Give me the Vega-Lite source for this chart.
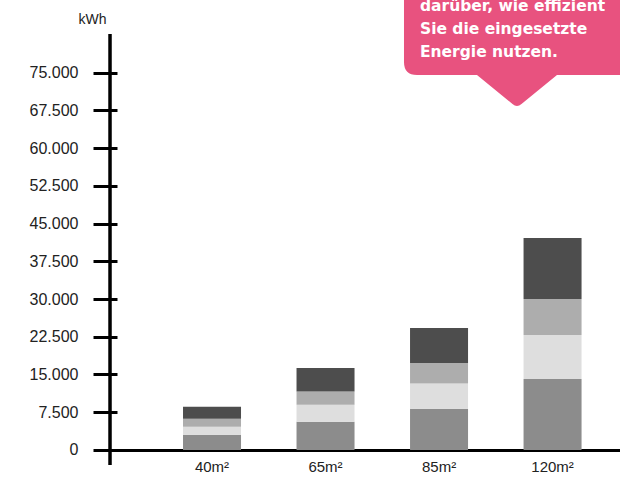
{
  "$schema": "https://vega.github.io/schema/vega-lite/v6.json",
  "width": 525,
  "height": 430,
  "autosize": {"type": "none"},
  "padding": {"left": 95, "top": 35, "right": 0, "bottom": 31},
  "datasets": {
    "verbrauch": [
      {"flaeche": "40m²", "teil": "1", "kwh": 3000},
      {"flaeche": "40m²", "teil": "2", "kwh": 1600},
      {"flaeche": "40m²", "teil": "3", "kwh": 1600},
      {"flaeche": "40m²", "teil": "4", "kwh": 2400},
      {"flaeche": "65m²", "teil": "1", "kwh": 5600},
      {"flaeche": "65m²", "teil": "2", "kwh": 3400},
      {"flaeche": "65m²", "teil": "3", "kwh": 2600},
      {"flaeche": "65m²", "teil": "4", "kwh": 4700},
      {"flaeche": "85m²", "teil": "1", "kwh": 8200},
      {"flaeche": "85m²", "teil": "2", "kwh": 5000},
      {"flaeche": "85m²", "teil": "3", "kwh": 4100},
      {"flaeche": "85m²", "teil": "4", "kwh": 6950},
      {"flaeche": "120m²", "teil": "1", "kwh": 14100},
      {"flaeche": "120m²", "teil": "2", "kwh": 8750},
      {"flaeche": "120m²", "teil": "3", "kwh": 7150},
      {"flaeche": "120m²", "teil": "4", "kwh": 12150}
    ],
    "achse": [{"u": 0.0286, "kwh": 82700, "kwh2": -3000}],
    "hinweis": [{"u": 0.8038, "kwh": 81500}],
    "hinweistext": [
      {"u": 0.619, "kwh": 87270, "txt": "darüber, wie effizient"},
      {"u": 0.619, "kwh": 82700, "txt": "Sie die eingesetzte"},
      {"u": 0.619, "kwh": 78130, "txt": "Energie nutzen."}
    ]
  },
  "encoding": {
    "y": {
      "field": "kwh",
      "type": "quantitative",
      "scale": {"domain": [-3000, 82500], "nice": false, "zero": false},
      "axis": {
        "title": "kWh",
        "titleAngle": 0,
        "titleAlign": "center",
        "titleBaseline": "alphabetic",
        "titleX": -25,
        "titleY": -12,
        "titleFont": "Liberation Sans",
        "titleFontSize": 14,
        "titleFontWeight": "normal",
        "titleColor": "#222",
        "values": [0, 7500, 15000, 22500, 30000, 37500, 45000, 52500, 60000, 67500, 75000],
        "labelExpr": "replace(format(datum.value, ','), ',', '.')",
        "domain": false,
        "grid": false,
        "offset": -22,
        "tickSize": 24,
        "tickWidth": 3,
        "tickColor": "#000",
        "labelPadding": 15,
        "labelFont": "Liberation Sans",
        "labelFontSize": 16,
        "labelColor": "#222"
      }
    }
  },
  "layer": [
    {
      "data": {"name": "verbrauch"},
      "mark": {"type": "bar"},
      "encoding": {
        "x": {
          "field": "flaeche",
          "type": "nominal",
          "sort": ["40m²", "65m²", "85m²", "120m²"],
          "scale": {"paddingInner": 0.489, "paddingOuter": 0.557, "align": 0.696},
          "axis": {
            "title": null,
            "labelAngle": 0,
            "ticks": false,
            "tickSize": 0,
            "offset": -15,
            "domainWidth": 3,
            "domainColor": "#000",
            "labelPadding": 9,
            "labelFont": "Liberation Sans",
            "labelFontSize": 15,
            "labelColor": "#222"
          }
        },
        "color": {
          "field": "teil",
          "type": "nominal",
          "scale": {"domain": ["1", "2", "3", "4"], "range": ["#8c8c8c", "#dedede", "#adadad", "#4d4d4d"]},
          "legend": null
        },
        "order": {"field": "teil"}
      }
    },
    {
      "data": {"name": "achse"},
      "mark": {"type": "rule", "color": "#000", "strokeWidth": 3.5},
      "encoding": {
        "x": {"field": "u", "type": "quantitative", "scale": {"domain": [0, 1]}, "axis": null},
        "y2": {"field": "kwh2"}
      }
    },
    {
      "data": {"name": "hinweis"},
      "mark": {
        "type": "point",
        "filled": true,
        "opacity": 1,
        "size": 40000,
        "color": "#e8527f",
        "shape": "M -1.13 -1.4 L 1.3 -1.4 L 1.3 0.35 L 0.4 0.35 L 0.045 0.64 Q 0 0.68 -0.045 0.64 L -0.4 0.35 L -1.0 0.35 Q -1.13 0.35 -1.13 0.22 Z"
      },
      "encoding": {
        "x": {"field": "u", "type": "quantitative", "scale": {"domain": [0, 1]}, "axis": null}
      }
    },
    {
      "data": {"name": "hinweistext"},
      "mark": {
        "type": "text",
        "align": "left",
        "baseline": "alphabetic",
        "color": "#ffffff",
        "font": "DejaVu Sans",
        "fontWeight": "bold",
        "fontSize": 15.5
      },
      "encoding": {
        "x": {"field": "u", "type": "quantitative", "scale": {"domain": [0, 1]}, "axis": null},
        "text": {"field": "txt"}
      }
    }
  ],
  "resolve": {"scale": {"x": "independent"}},
  "config": {"view": {"stroke": null}}
}
